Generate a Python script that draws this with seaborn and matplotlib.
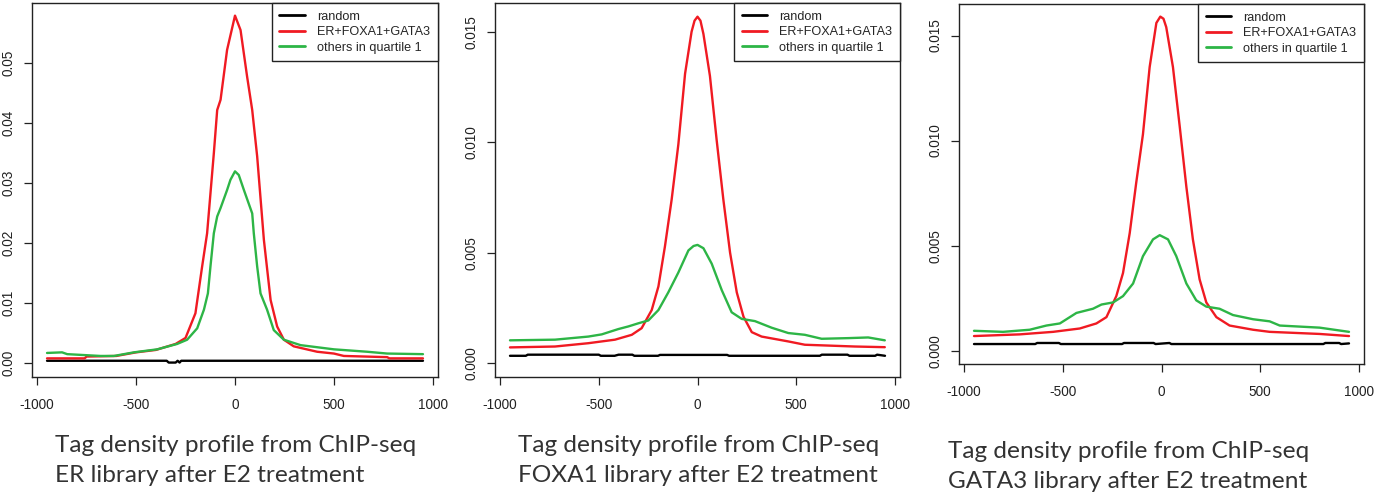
import numpy as np
import pandas as pd
import matplotlib
matplotlib.use("Agg")
import matplotlib.pyplot as plt
import seaborn as sns

# ---------------- data ----------------
series_names = ["random", "ER+FOXA1+GATA3", "others in quartile 1"]
series_colors = ["#000000", "#F01A22", "#2DB546"]

# Panel 1: ER library
er_random_x = [-950, -345, -335, -300, -290, -280, -272, 950]
er_random_y = [0.0004, 0.0004, 0.0001, 0.0001, 0.0004, 0.0001, 0.0004, 0.0004]
er_red_x = [-950, -760, -750, -600, -500, -400, -300, -250, -200, -166, -141, -107,
            -90, -73, -40, 0, 28, 61, 87, 112, 146, 180, 213, 247, 297, 415, 500,
            550, 769, 780, 950]
er_red_y = [0.0008, 0.0008, 0.0011, 0.0012, 0.0018, 0.0022, 0.0032, 0.0042, 0.0083,
            0.0161, 0.0216, 0.0349, 0.0421, 0.0438, 0.0521, 0.0578, 0.0554, 0.0477,
            0.0421, 0.0344, 0.0205, 0.0105, 0.0061, 0.0039, 0.0028, 0.0019, 0.0016,
            0.0012, 0.0010, 0.0008, 0.0008]
er_green_x = [-950, -874, -848, -680, -612, -511, -393, -292, -242, -191, -157, -137,
              -124, -107, -90, -73, -40, -23, 0, 19, 45, 87, 95, 112, 129, 162, 196,
              247, 331, 500, 668, 769, 950]
er_green_y = [0.0017, 0.0018, 0.0015, 0.0012, 0.0012, 0.0018, 0.0023, 0.0032, 0.0039,
              0.0058, 0.0089, 0.0116, 0.0161, 0.0216, 0.0244, 0.0258, 0.0288, 0.0305,
              0.0319, 0.0313, 0.0288, 0.0249, 0.0216, 0.0161, 0.0116, 0.0089, 0.0055,
              0.0039, 0.0030, 0.0023, 0.0019, 0.0016, 0.0015]

# Panel 2: FOXA1 library
fx_random_x = [-950, -870, -860, -500, -490, -420, -400, -330, -320, -200, -190,
               150, 160, 620, 630, 760, 770, 900, 910, 950]
fx_random_y = [0.00033, 0.00033, 0.00038, 0.00038, 0.00033, 0.00033, 0.00038, 0.00038,
               0.00033, 0.00033, 0.00037, 0.00037, 0.00033, 0.00033, 0.00038, 0.00038,
               0.00033, 0.00033, 0.00038, 0.00033]
fx_red_x = [-950, -722, -553, -418, -333, -283, -232, -198, -165, -131, -97, -63, -30,
            -15, 0, 15, 30, 63, 97, 131, 165, 199, 233, 275, 325, 460, 544, 797, 949]
fx_red_y = [0.00071, 0.00075, 0.0009, 0.00106, 0.00128, 0.00158, 0.0024, 0.00347,
            0.00528, 0.0074, 0.0099, 0.0131, 0.0150, 0.0155, 0.01568, 0.0155, 0.0149,
            0.0130, 0.0101, 0.0074, 0.0050, 0.0032, 0.0021, 0.0014, 0.0012, 0.00098,
            0.00083, 0.00075, 0.00072]
fx_green_x = [-950, -722, -553, -485, -401, -350, -300, -249, -198, -148, -97, -46,
              -20, 0, 30, 72, 123, 173, 224, 291, 376, 460, 544, 629, 764, 865, 949]
fx_green_y = [0.00103, 0.00106, 0.0012, 0.0013, 0.00154, 0.00166, 0.0018, 0.00193,
              0.0024, 0.0032, 0.0041, 0.0051, 0.0053, 0.00535, 0.0052, 0.0045, 0.0033,
              0.0023, 0.0020, 0.0019, 0.0016, 0.00136, 0.00128, 0.0011, 0.00113,
              0.00116, 0.00103]

# Panel 3: GATA3 library
gt_random_x = [-950, -640, -630, -520, -510, -200, -190, -40, -30, 40, 50, 820, 830,
               900, 910, 950]
gt_random_y = [0.00032, 0.00032, 0.00037, 0.00037, 0.00032, 0.00032, 0.00037, 0.00037,
               0.00032, 0.00037, 0.00032, 0.00032, 0.00037, 0.00037, 0.00032, 0.00035]
gt_red_x = [-950, -718, -549, -414, -330, -279, -229, -195, -161, -128, -94, -60, -26,
            -6, 10, 24, 58, 92, 126, 159, 193, 227, 278, 345, 464, 548, 801, 950]
gt_red_y = [0.0007, 0.00078, 0.0009, 0.00106, 0.0013, 0.0016, 0.0026, 0.0037, 0.0056,
            0.0080, 0.0103, 0.0135, 0.0156, 0.0159, 0.0158, 0.0154, 0.0135, 0.0107,
            0.0078, 0.0053, 0.0034, 0.0023, 0.0016, 0.0012, 0.0010, 0.0009, 0.0008,
            0.0007]
gt_green_x = [-950, -803, -668, -583, -515, -431, -347, -304, -245, -195, -144, -94,
              -43, -9, 33, 75, 126, 176, 227, 294, 362, 464, 548, 599, 801, 950]
gt_green_y = [0.00095, 0.0009, 0.0010, 0.0012, 0.0013, 0.0018, 0.0020, 0.0022, 0.0023,
              0.0026, 0.0032, 0.0045, 0.0053, 0.0055, 0.0053, 0.0045, 0.0032, 0.0024,
              0.0021, 0.0020, 0.0017, 0.0015, 0.0014, 0.0012, 0.0011, 0.0009]

x_ticks = [-1000, -500, 0, 500, 1000]
y_ticks_er = [0.00, 0.01, 0.02, 0.03, 0.04, 0.05]
y_labels_er = ["0.00", "0.01", "0.02", "0.03", "0.04", "0.05"]
y_ticks_small = [0.000, 0.005, 0.010, 0.015]
y_labels_small = ["0.000", "0.005", "0.010", "0.015"]

caption_line1 = ["Tag density profile from ChIP-seq"] * 3
caption_line2 = ["ER library after E2 treatment",
                 "FOXA1 library after E2 treatment",
                 "GATA3 library after E2 treatment"]

panels = [
    (er_random_x, er_random_y, er_red_x, er_red_y, er_green_x, er_green_y),
    (fx_random_x, fx_random_y, fx_red_x, fx_red_y, fx_green_x, fx_green_y),
    (gt_random_x, gt_random_y, gt_red_x, gt_red_y, gt_green_x, gt_green_y),
]

# ---------------- style ----------------
sns.set_theme(style="white")
plt.rcParams["font.family"] = ["Liberation Sans", "DejaVu Sans"]

W, H = 1374, 493
fig = plt.figure(figsize=(W / 100, H / 100), dpi=100)

# axes boxes in pixel coords: (left, top, right, bottom)
boxes = [(32, 3, 438, 377), (495, 3, 900, 377), (959, 4, 1364, 364)]
ylims = [(-0.0023, 0.0599), (-0.00063, 0.0163), (-0.00063, 0.0165)]
caption_pos = [(55, 452), (518, 452), (948, 458)]

for i, (box, data) in enumerate(zip(boxes, panels)):
    l, t, r, b = box
    ax = fig.add_axes([l / W, 1 - b / H, (r - l) / W, (b - t) / H])
    rx, ry, gx, gy, hx, hy = data
    df = pd.DataFrame({
        "pos": list(rx) + list(gx) + list(hx),
        "density": list(ry) + list(gy) + list(hy),
        "series": [series_names[0]] * len(rx) + [series_names[1]] * len(gx)
                  + [series_names[2]] * len(hx),
    })
    sns.lineplot(data=df, x="pos", y="density", hue="series", hue_order=series_names,
                 palette=series_colors, estimator=None, sort=False, linewidth=1.7,
                 ax=ax)
    ax.set_xlim(-1026, 1026)
    ax.set_ylim(*ylims[i])
    ax.set_xlabel("")
    ax.set_ylabel("")
    ax.set_xticks(x_ticks)
    ax.set_xticklabels([str(v) for v in x_ticks])
    if i == 0:
        ax.set_yticks(y_ticks_er)
        ax.set_yticklabels(y_labels_er, rotation=90, va="center")
    else:
        ax.set_yticks(y_ticks_small)
        ax.set_yticklabels(y_labels_small, rotation=90, va="center")
    for s in ax.spines.values():
        s.set_color("#222222")
        s.set_linewidth(1.0)
    ax.tick_params(axis="both", which="both", direction="out", length=6, width=0.9,
                   color="#222222", labelsize=9.8, labelcolor="#222222", pad=6,
                   bottom=True, left=True)
    ax.tick_params(axis="x", pad=9)
    leg = ax.legend(loc="upper right", frameon=True, fancybox=False, framealpha=1,
                    edgecolor="#222222", borderaxespad=0, fontsize=9.1,
                    handlelength=2.0, handletextpad=1.0, labelspacing=0.28,
                    borderpad=0.6)
    leg.get_frame().set_linewidth(1.0)
    for ln in leg.get_lines():
        ln.set_linewidth(2.0)
    cx, cy = caption_pos[i]
    fig.text(cx / W, 1 - cy / H, caption_line1[i], fontsize=17.6, color="#333333",
             family=["Lato", "DejaVu Sans"], ha="left", va="baseline")
    fig.text(cx / W, 1 - (cy + 30) / H, caption_line2[i], fontsize=17.6,
             color="#333333", family=["Lato", "DejaVu Sans"], ha="left",
             va="baseline")

fig.savefig("out.png", dpi=100)
